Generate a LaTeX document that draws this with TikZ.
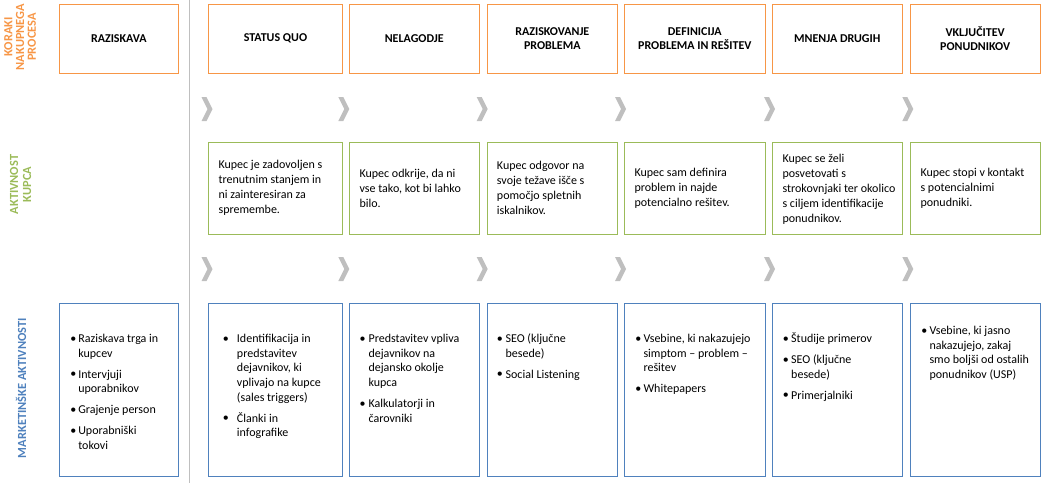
\documentclass[tikz,border=0pt]{standalone}
\usepackage{fontspec}
\setmainfont{Carlito}
\usetikzlibrary{fit}
\definecolor{korange}{HTML}{F79646}
\definecolor{kgreen}{HTML}{9BBB59}
\definecolor{kblue}{HTML}{4F81BD}
\definecolor{kgray}{HTML}{BFBFBF}
\newcommand\blist[2]{\begin{tabular}[t]{@{}p{#1}@{}l@{}}#2\end{tabular}}
\newcommand\bu{\raisebox{0.3pt}{\small •}}
\newcommand\gap{\\[4.7pt]}
\begin{document}
\begin{tikzpicture}[x=0.75pt,y=-0.75pt,
  stepbox/.style={draw=korange, line width=0.75pt, inner sep=0pt, font=\fontsize{9}{10.7}\selectfont\bfseries, align=center},
  buyerbox/.style={draw=kgreen, line width=0.75pt, inner sep=0pt},
  mktbox/.style={draw=kblue, line width=0.75pt, inner sep=0pt},
  bodytext/.style={inner sep=0pt, align=left, anchor=west, font=\fontsize{9}{11.25}\selectfont},
  listtext/.style={inner sep=0pt, anchor=base west, font=\fontsize{9}{11}\selectfont},
  rowlabel/.style={inner sep=0pt, rotate=90, align=center, font=\fontsize{9.3}{8.8}\selectfont\bfseries},
  chev/.style={fill=kgray}
]
\useasboundingbox (0,0) rectangle (1047,483);

% separator
\draw[kgray, line width=0.75pt] (189.3,0) -- (189.3,483);

% row labels
\node[rowlabel, text=korange] (lab1) at (20,37) {KORAKI\\NAKUPNEGA\\PROCESA};
\node[rowlabel, text=kgreen, font=\fontsize{9.3}{9.75}\selectfont\bfseries] (lab2) at (20.5,184.5) {AKTIVNOST\\KUPCA};
\node[rowlabel, text=kblue] (lab3) at (21,388) {MARKETINŠKE AKTIVNOSTI};

% top row: process steps
\node[stepbox, fit={(59.3,4.3) (178.3,73)}] (t0) {};
\node at (t0.center) [font=\fontsize{9}{10.7}\selectfont\bfseries] (t0t) {RAZISKAVA};
\node[stepbox, fit={(208.3,4.3) (342.7,73)}] (t1) {};
\node at (t1.center) [font=\fontsize{9}{10.7}\selectfont\bfseries] (t1t) {STATUS QUO};
\node[stepbox, fit={(349.3,4.3) (479.3,73)}] (t2) {};
\node at (t2.center) [font=\fontsize{9}{10.7}\selectfont\bfseries] (t2t) {NELAGODJE};
\node[stepbox, fit={(487.3,4.3) (617.3,73)}] (t3) {};
\node at (t3.center) [font=\fontsize{9}{10.7}\selectfont\bfseries, align=center] (t3t) {RAZISKOVANJE\\PROBLEMA};
\node[stepbox, fit={(624.3,4.3) (765.3,73)}] (t4) {};
\node at (t4.center) [font=\fontsize{9}{10.7}\selectfont\bfseries, align=center] (t4t) {DEFINICIJA\\PROBLEMA IN REŠITEV};
\node[stepbox, fit={(772.3,4.3) (902.3,73)}] (t5) {};
\node at (t5.center) [font=\fontsize{9}{10.7}\selectfont\bfseries] (t5t) {MNENJA DRUGIH};
\node[stepbox, fit={(910.3,4.3) (1040,73)}] (t6) {};
\node at (t6.center) [font=\fontsize{9}{10.7}\selectfont\bfseries, align=center] (t6t) {VKLJUČITEV\\PONUDNIKOV};

% chevrons
\foreach \cx in {201.5,338.3,476.7,615,764,902.3}{
  \foreach \cy in {97,257}{
    \fill[chev] (\cx,\cy) -- ++(5,0) -- ++(6,12) -- ++(-6,12) -- ++(-5,0) -- ++(6,-12) -- cycle;
  }
}

% middle row: buyer activity
\node[buyerbox, fit={(208.3,142.3) (342.7,234)}] (g1) {};
\node[bodytext] (g1t) at (218.3,188) {Kupec je zadovoljen s\\trenutnim stanjem in\\ni zainteresiran za\\spremembe.};
\node[buyerbox, fit={(349.3,142.3) (479.3,234)}] (g2) {};
\node[bodytext] (g2t) at (359.3,188) {Kupec odkrije, da ni\\vse tako, kot bi lahko\\bilo.};
\node[buyerbox, fit={(487.3,142.3) (617.3,234)}] (g3) {};
\node[bodytext] (g3t) at (496.7,188) {Kupec odgovor na\\svoje težave išče s\\pomočjo spletnih\\iskalnikov.};
\node[buyerbox, fit={(624.3,142.3) (765.3,234)}] (g4) {};
\node[bodytext] (g4t) at (634.3,188) {Kupec sam definira\\problem in najde\\potencialno rešitev.};
\node[buyerbox, fit={(772.3,142.3) (902.3,234)}] (g5) {};
\node[bodytext] (g5t) at (782.3,189) {Kupec se želi\\posvetovati s\\strokovnjaki ter okolico\\s ciljem identifikacije\\ponudnikov.};
\node[buyerbox, fit={(910.3,142.3) (1040,234)}] (g6) {};
\node[bodytext] (g6t) at (920.3,188) {Kupec stopi v kontakt\\s potencialnimi\\ponudniki.};

% bottom row: marketing activities
\node[mktbox, fit={(59.3,303.3) (178.3,476.3)}] (b0) {};
\node[listtext] (b0t) at (70,342.5) {\blist{6pt}{\bu & Raziskava trga in\\ & kupcev\gap \bu & Intervjuji\\ & uporabnikov\gap \bu & Grajenje person\gap \bu & Uporabniški\\ & tokovi}};
\node[mktbox, fit={(208.3,303.3) (342.7,476.3)}] (b1) {};
\node[listtext] (b1t) at (222.7,342.5) {\blist{10.5pt}{\bu & Identifikacija in\\ & predstavitev\\ & dejavnikov, ki\\ & vplivajo na kupce\\ & (sales triggers)\gap \bu & Članki in\\ & infografike}};
\node[mktbox, fit={(349.3,303.3) (479.3,476.3)}] (b2) {};
\node[listtext] (b2t) at (359.3,342.5) {\blist{6.75pt}{\bu & Predstavitev vpliva\\ & dejavnikov na\\ & dejansko okolje\\ & kupca\gap \bu & Kalkulatorji in\\ & čarovniki}};
\node[mktbox, fit={(487.3,303.3) (617.3,476.3)}] (b3) {};
\node[listtext] (b3t) at (496.7,342.5) {\blist{6.5pt}{\bu & SEO (ključne\\ & besede)\gap \bu & Social Listening}};
\node[mktbox, fit={(624.3,303.3) (765.3,476.3)}] (b4) {};
\node[listtext] (b4t) at (635,342.5) {\blist{6.2pt}{\bu & Vsebine, ki nakazujejo\\ & simptom – problem –\\ & rešitev\gap \bu & Whitepapers}};
\node[mktbox, fit={(772.3,303.3) (902.3,476.3)}] (b5) {};
\node[listtext] (b5t) at (782.7,342.5) {\blist{6.2pt}{\bu & Študije primerov\gap \bu & SEO (ključne\\ & besede)\gap \bu & Primerjalniki}};
\node[mktbox, fit={(910.3,303.3) (1040,476.3)}] (b6) {};
\node[listtext] (b6t) at (921,334.5) {\blist{6.2pt}{\bu & Vsebine, ki jasno\\ & nakazujejo, zakaj\\ & smo boljši od ostalih\\ & ponudnikov (USP)}};
\end{tikzpicture}
\end{document}
